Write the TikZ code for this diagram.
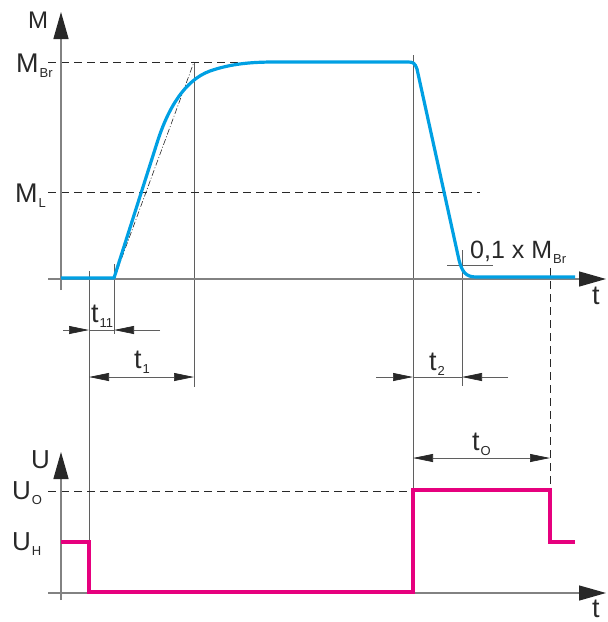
\documentclass[tikz,border=0pt]{standalone}
\usepackage{fontspec}
\setmainfont{Liberation Sans}
\usetikzlibrary{arrows.meta}
\definecolor{curveblue}{RGB}{0,160,227}
\definecolor{sigpink}{RGB}{230,0,126}
\definecolor{axisgray}{RGB}{130,130,130}
\definecolor{guidegray}{RGB}{95,95,95}
\definecolor{inkdark}{RGB}{40,40,40}
\newcommand\lowsub[1]{\kern1pt\raisebox{-5.5pt}{\fontsize{13}{13}\selectfont #1}}
\begin{document}
\begin{tikzpicture}[x=1pt,y=-1pt,
  axisline/.style={draw=axisgray, line width=1.3pt},
  axistip/.style={-{Triangle[length=27pt,width=15pt,color=inkdark]}},
  guide/.style={draw=guidegray, line width=0.7pt},
  refdash/.style={draw=inkdark, line width=0.8pt, dash pattern=on 8pt off 5pt},
  tangentline/.style={draw=inkdark, line width=0.6pt, dash pattern=on 6pt off 2pt on 1pt off 2pt},
  dimline/.style={draw=guidegray, line width=0.7pt},
  dimtip/.style={-{Triangle[length=20pt,width=8pt,color=inkdark]}},
  dimboth/.style={{Triangle[length=20pt,width=8pt,color=inkdark]}-{Triangle[length=20pt,width=8pt,color=inkdark]}},
  lbl/.style={text=inkdark, inner sep=0pt, anchor=base west, font=\fontsize{27}{27}\selectfont},
  torque/.style={draw=curveblue, line width=3.2pt, line join=round},
  volt/.style={draw=sigpink, line width=3.2pt, line join=miter}]
\useasboundingbox (0,0) rectangle (608,622);

% coordinates
\coordinate (MaxB) at (61,290); \coordinate (MaxT) at (61,12);
\coordinate (TaxL) at (48,279); \coordinate (TaxR) at (606,279);
\coordinate (BrL) at (48,62);  \coordinate (BrR) at (373,62);
\coordinate (MLL) at (48,192); \coordinate (MLR) at (480,192);
\coordinate (tanA) at (114,279); \coordinate (tanB) at (194,62);
\coordinate (g1a) at (89,271);  \coordinate (g1b) at (89,541);
\coordinate (g2a) at (114,264); \coordinate (g2b) at (114,334);
\coordinate (g3a) at (194,62);  \coordinate (g3b) at (194,387);
\coordinate (g4a) at (413,55);  \coordinate (g4b) at (413,590);
\coordinate (g5a) at (462,250); \coordinate (g5b) at (462,386);
\coordinate (tkL) at (447,265); \coordinate (tkR) at (493,265);
\coordinate (g6a) at (550,268); \coordinate (g6b) at (550,490);
\coordinate (d11L) at (63,330); \coordinate (d11a) at (89,330);
\coordinate (d11b) at (114,330); \coordinate (d11R) at (160,330);
\coordinate (d1a) at (89,377); \coordinate (d1b) at (194,377);
\coordinate (d2L) at (376,377); \coordinate (d2a) at (413,377);
\coordinate (d2b) at (462,377); \coordinate (d2R) at (508,377);
\coordinate (dOa) at (413,458); \coordinate (dOb) at (550,458);
\coordinate (UaxB) at (61,600); \coordinate (UaxT) at (61,452);
\coordinate (BaxL) at (48,593); \coordinate (BaxR) at (606,593);
\coordinate (UOL) at (48,491); \coordinate (UOR) at (413,491);

% guide lines
\draw[guide] (g1a) -- (g1b);
\draw[guide] (g2a) -- (g2b);
\draw[guide] (g3a) -- (g3b);
\draw[guide] (g4a) -- (g4b);
\draw[guide] (g5a) -- (g5b);
\draw[guide] (tkL) -- (tkR);
\draw[refdash] (g6a) -- (g6b);

% reference levels
\draw[refdash] (BrL) -- (BrR);
\draw[refdash] (MLL) -- (MLR);
\draw[refdash] (UOL) -- (UOR);
\draw[tangentline] (tanA) -- (tanB);

% dimensions
\draw[dimline] (d11a) -- (d11b);
\draw[dimline,dimtip] (d11L) -- (d11a);
\draw[dimline,dimtip] (d11R) -- (d11b);
\draw[dimline,dimboth] (d1a) -- (d1b);
\draw[dimline] (d2a) -- (d2b);
\draw[dimline,dimtip] (d2L) -- (d2a);
\draw[dimline,dimtip] (d2R) -- (d2b);
\draw[dimline,dimboth] (dOa) -- (dOb);

% axes
\draw[axisline,axistip] (MaxB) -- (MaxT);
\draw[axisline,axistip] (TaxL) -- (TaxR);
\draw[axisline,axistip] (UaxB) -- (UaxT);
\draw[axisline,axistip] (BaxL) -- (BaxR);

% torque curve
\draw[torque] (61,278) -- (114,278) -- (157,143)
  .. controls (168,108) and (185,80) .. (210,71)
  .. controls (230,64) and (250,62) .. (275,62) -- (408,62)
  .. controls (413,62) and (415,63) .. (417,69) -- (459,260)
  .. controls (462,272) and (466,277) .. (476,277) -- (575,277);

% voltage signal
\draw[volt] (61,542) -- (89,542) -- (89,592) -- (413,592) -- (413,490)
  -- (550,490) -- (550,542) -- (575,542);

% labels
\node[lbl, font=\fontsize{24}{24}\selectfont] (lM) at (28,28) {M};
\node[lbl] (lMBr) at (16,72) {M\lowsub{Br}};
\node[lbl] (lML) at (15,202) {M\lowsub{L}};
\node[lbl, font=\fontsize{26}{26}\selectfont] (lU) at (31,468) {U};
\node[lbl, font=\fontsize{26}{26}\selectfont] (lUO) at (12,499) {U\lowsub{O}};
\node[lbl, font=\fontsize{26}{26}\selectfont] (lUH) at (12,550) {U\lowsub{H}};
\node[lbl] (lt11) at (91,322) {t\lowsub{11}};
\node[lbl] (lt1) at (134,368) {t\lowsub{1}};
\node[lbl] (lt2) at (429,370) {t\lowsub{2}};
\node[lbl] (ltO) at (472,450) {t\lowsub{O}};
\node[lbl] (ltA) at (592,304) {t};
\node[lbl] (ltB) at (592,617) {t};
\node[lbl, font=\fontsize{25}{25}\selectfont] (l01) at (470,258) {0,1 x M\lowsub{Br}};
\end{tikzpicture}
\end{document}
